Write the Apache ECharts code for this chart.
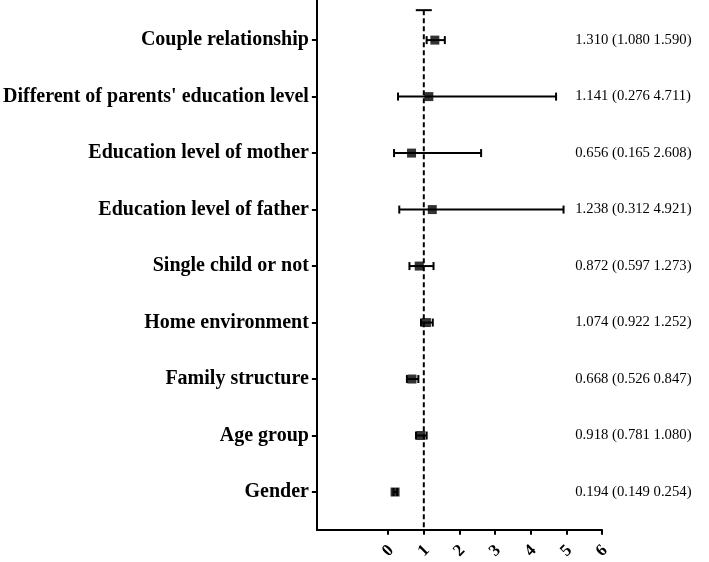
<!DOCTYPE html>
<html>
<head>
<meta charset="utf-8">
<script src="https://cdn.jsdelivr.net/npm/echarts@6/dist/echarts.min.js"></script>
<style>
  html, body { margin: 0; padding: 0; background: #fff; }
  #chart { width: 709px; height: 562px; }
</style>
</head>
<body>
<div id="chart"></div>
<script>
// rows listed bottom -> top
const factors = [
  'Gender',
  'Age group',
  'Family structure',
  'Home environment',
  'Single child or not',
  'Education level of father',
  'Education level of mother',
  "Different of parents' education level",
  'Couple relationship'
]
const oddsRatio = [0.194, 0.918, 0.668, 1.074, 0.872, 1.238, 0.656, 1.141, 1.310]
const ciLower   = [0.149, 0.781, 0.526, 0.922, 0.597, 0.312, 0.165, 0.276, 1.080]
const ciUpper   = [0.254, 1.080, 0.847, 1.252, 1.273, 4.921, 2.608, 4.711, 1.590]
const xTicks = [0, 1, 2, 3, 4, 5, 6]
const refLine = 1

const SERIF = '"Liberation Serif", "Times New Roman", serif'
const LABEL_X = 5.25   // where the OR (CI) text starts, in x units
const REF_TOP = 9.53   // top of the dashed reference line, in row units

const rows = factors.map((name, i) => [oddsRatio[i], i + 1, ciLower[i], ciUpper[i]])
const yTicks = factors.map((_, i) => i + 1)

const chart = echarts.init(document.getElementById('chart'))

chart.setOption({
  backgroundColor: '#fff',
  animation: false,
  grid: { left: 316, right: 107, top: 0, bottom: 31 },
  xAxis: {
    type: 'value',
    min: -2,
    max: 6,
    interval: 1,
    axisLine: { onZero: false, lineStyle: { color: '#000', width: 2 } },
    axisTick: { show: true, length: 5, customValues: xTicks, lineStyle: { color: '#000', width: 2 } },
    axisLabel: {
      customValues: xTicks,
      rotate: 45,
      align: 'center',
      verticalAlign: 'middle',
      margin: 21,
      color: '#000',
      fontFamily: SERIF,
      fontWeight: 'bold',
      fontSize: 17
    },
    splitLine: { show: false }
  },
  yAxis: {
    type: 'value',
    min: 0.33,
    max: 9.71,
    axisLine: { show: true, onZero: false, lineStyle: { color: '#000', width: 2 } },
    axisTick: { show: true, length: 5, customValues: yTicks, lineStyle: { color: '#000', width: 2 } },
    axisLabel: {
      customValues: yTicks,
      margin: 8,
      color: '#000',
      fontFamily: SERIF,
      fontWeight: 'bold',
      fontSize: 20,
      formatter: v => factors[Math.round(v) - 1] || ''
    },
    splitLine: { show: false }
  },
  series: [
    {
      // dashed reference line at OR = 1 with a cap on top
      type: 'custom',
      silent: true,
      data: [[refLine]],
      renderItem: (params, api) => {
        const top = api.coord([api.value(0), REF_TOP])
        const bottom = api.coord([api.value(0), 0.33])
        return {
          type: 'group',
          children: [
            {
              type: 'line',
              shape: { x1: top[0], y1: top[1], x2: bottom[0], y2: bottom[1] },
              style: { stroke: '#000', lineWidth: 2, lineDash: [5, 3] }
            },
            {
              type: 'line',
              shape: { x1: top[0] - 8, y1: top[1], x2: top[0] + 8, y2: top[1] },
              style: { stroke: '#000', lineWidth: 2 }
            }
          ]
        }
      }
    },
    {
      // confidence intervals
      type: 'custom',
      silent: true,
      data: rows,
      renderItem: (params, api) => {
        const y = api.value(1)
        const lo = api.coord([api.value(2), y])
        const hi = api.coord([api.value(3), y])
        const cap = 4
        return {
          type: 'group',
          children: [
            { type: 'line', shape: { x1: lo[0], y1: lo[1], x2: hi[0], y2: hi[1] }, style: { stroke: '#000', lineWidth: 2 } },
            { type: 'line', shape: { x1: lo[0], y1: lo[1] - cap, x2: lo[0], y2: lo[1] + cap }, style: { stroke: '#000', lineWidth: 2 } },
            { type: 'line', shape: { x1: hi[0], y1: hi[1] - cap, x2: hi[0], y2: hi[1] + cap }, style: { stroke: '#000', lineWidth: 2 } }
          ]
        }
      }
    },
    {
      type: 'scatter',
      symbol: 'rect',
      symbolSize: 9,
      itemStyle: { color: '#000' },
      data: rows.map(r => [r[0], r[1]]),
      z: 5
    },
    {
      // OR (95% CI) text on the right
      type: 'custom',
      silent: true,
      data: rows,
      renderItem: (params, api) => {
        const i = params.dataIndex
        const p = api.coord([LABEL_X, api.value(1)])
        return {
          type: 'text',
          style: {
            x: p[0],
            y: p[1],
            text: oddsRatio[i].toFixed(3) + ' (' + ciLower[i].toFixed(3) + ' ' + ciUpper[i].toFixed(3) + ')',
            fill: '#000',
            font: '14.7px ' + SERIF,
            textAlign: 'left',
            textVerticalAlign: 'middle'
          }
        }
      }
    }
  ]
})
</script>
</body>
</html>
